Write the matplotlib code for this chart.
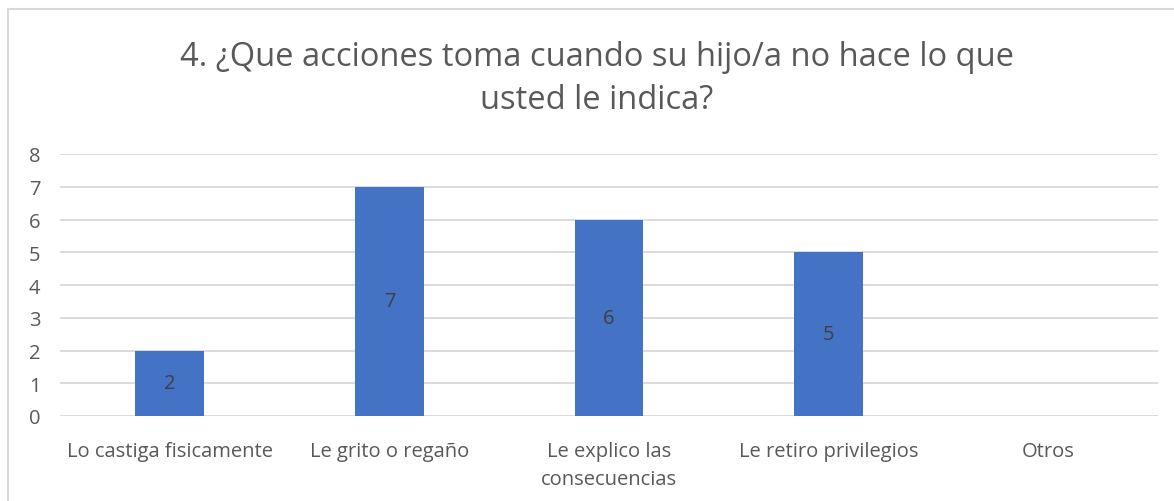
import matplotlib.pyplot as plt
import numpy as np

# Data
categories = ["Lo castiga fisicamente", "Le grito o regaño", "Le explico las\nconsecuencias",
              "Le retiro privilegios", "Otros"]
values = [2, 7, 6, 5, 0]
title = "4. ¿Que acciones toma cuando su hijo/a no hace lo que\nusted le indica?"

plt.rcParams['font.family'] = ['Open Sans', 'DejaVu Sans']

fig = plt.figure(figsize=(11.74, 5.02), dpi=100)
ax = fig.add_axes([60 / 1174, 85 / 502, 1098 / 1174, 262 / 502])

# chart border like an Excel chart frame
fig.patches.append(plt.Rectangle((8 / 1174, -0.05), 1.2, 1 - 10 / 502 + 0.05, transform=fig.transFigure,
                                 fill=False, edgecolor='#d9d9d9', linewidth=1.5))

x = np.arange(len(categories))
bars = ax.bar(x, values, width=0.313, color='#4472c4', zorder=3)
labels = [str(v) if v > 0 else '' for v in values]
ax.bar_label(bars, labels=labels, label_type='center', fontsize=14.5, color='#404040')

ax.set_xlim(-0.5, len(categories) - 0.5)
ax.set_ylim(0, 8)
ax.set_yticks(range(0, 9))
ax.yaxis.grid(True, color='#d9d9d9', linewidth=1.3, zorder=0)
ax.set_axisbelow(True)
for s in ax.spines.values():
    s.set_visible(False)
ax.tick_params(axis='both', length=0, colors='#595959', labelsize=14.5)
ax.tick_params(axis='y', pad=14)
ax.tick_params(axis='x', pad=18)
ax.set_xticks(x)
ax.set_xticklabels(categories, linespacing=1.55)

fig.text(597 / 1174, 1 - 79 / 502, title, ha='center', va='center', fontsize=23.5,
         color='#595959', linespacing=1.4)

fig.savefig('out.png', dpi=100)
